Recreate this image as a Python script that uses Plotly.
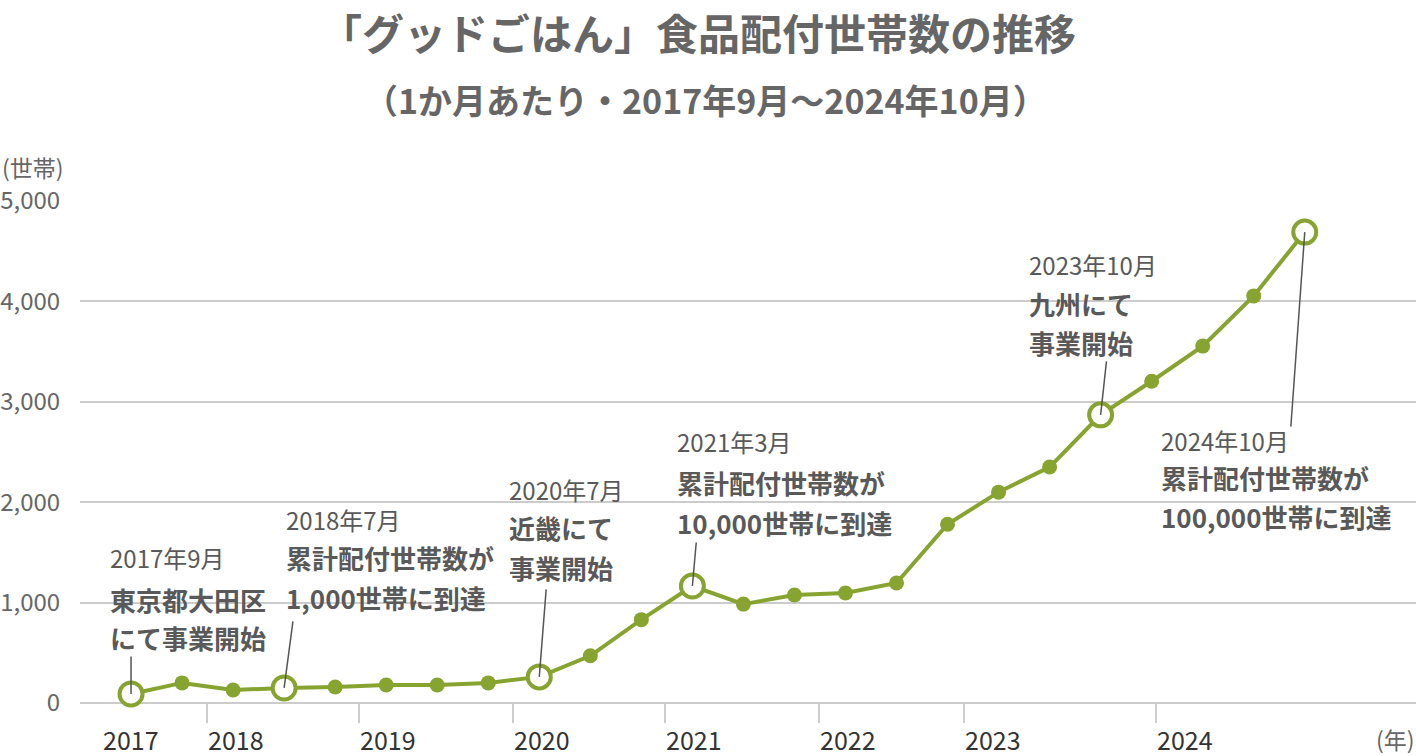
import plotly.graph_objects as go

# ---------------- data ----------------
values = [90, 200, 130, 150, 160, 180, 180, 200, 260, 470, 830, 1165,
          985, 1075, 1095, 1195, 1780, 2100, 2350, 2870, 3205, 3555, 4055, 4690]
idx = list(range(len(values)))

year_labels = ["2017", "2018", "2019", "2020", "2021", "2022", "2023", "2024"]
year_starts = [-0.57, 1.49, 4.47, 7.48, 10.46, 13.48, 16.32, 20.08]

y_ticks = [0, 1000, 2000, 3000, 4000, 5000]

event_idx = [0, 3, 8, 11, 19, 23]
event_dates = ["2017年9月", "2018年7月", "2020年7月", "2021年3月", "2023年10月", "2024年10月"]
event_line2 = ["東京都大田区", "累計配付世帯数が", "近畿にて", "累計配付世帯数が", "九州にて", "累計配付世帯数が"]
event_line3 = ["にて事業開始", "1,000世帯に到達", "事業開始", "10,000世帯に到達", "事業開始", "100,000世帯に到達"]

title = "「グッドごはん」食品配付世帯数の推移"
subtitle = "（1か月あたり・2017年9月～2024年10月）"

# ---------------- style ----------------
FONT = "Noto Sans CJK JP"
GREEN = "#87a330"
GRID = "#cccccc"
TXT = "#595959"

# label layout (pixel offsets from the event point): x shift, y shifts of 3 lines, leader ax/ay
label_xshift = [-23, 0, -32, -17, -74, -146]
label_yshift = [(136, 94, 56), (168, 130, 90), (187, 149, 109), (145, 104, 64),
                (150, 111, 72), (-208, -245, -284)]
leader = [(0, -39), (9, -68), (7, -89), (4, -45), (6, -55), (-14, 196)]

fig = go.Figure()
fig.add_trace(go.Scatter(
    x=idx, y=values, mode="lines+markers",
    line=dict(color=GREEN, width=4),
    marker=dict(color=GREEN, size=15),
    hoverinfo="skip", cliponaxis=False, showlegend=False))
fig.add_trace(go.Scatter(
    x=[idx[i] for i in event_idx], y=[values[i] for i in event_idx], mode="markers",
    marker=dict(color="white", size=23, line=dict(color=GREEN, width=4)),
    hoverinfo="skip", cliponaxis=False, showlegend=False))

ann = []
for k, i in enumerate(event_idx):
    ax, ay = leader[k]
    ann.append(dict(x=idx[i], y=values[i], xref="x", yref="y", text="",
                    showarrow=True, arrowhead=0, arrowwidth=1.5, arrowcolor="#555555",
                    ax=ax, ay=ay, standoff=0))
    texts = [event_dates[k], "<b>%s</b>" % event_line2[k], "<b>%s</b>" % event_line3[k]]
    sizes = [24, 26, 26]
    for t, s, ys in zip(texts, sizes, label_yshift[k]):
        ann.append(dict(x=idx[i], y=values[i], xref="x", yref="y", text=t,
                        showarrow=False, xanchor="left", yanchor="middle",
                        xshift=label_xshift[k], yshift=ys,
                        font=dict(family=FONT, size=s, color=TXT)))

for lab, xs in zip(year_labels, year_starts):
    ann.append(dict(x=xs, y=0, xref="x", yref="paper", text=lab, showarrow=False,
                    xanchor="left", yanchor="middle", yshift=-36, borderpad=0,
                    font=dict(family=FONT, size=25, color="#333333")))

ann.append(dict(x=0, y=1, xref="paper", yref="paper", text="(世帯)", showarrow=False,
                xanchor="left", yanchor="middle", xshift=-80, yshift=34,
                font=dict(family=FONT, size=23, color="#666666")))
ann.append(dict(x=1, y=0, xref="paper", yref="paper", text="(年)", showarrow=False,
                xanchor="right", yanchor="middle", yshift=-36, borderpad=0,
                font=dict(family=FONT, size=23, color="#666666")))
ann.append(dict(x=0.5, y=1, xref="paper", yref="paper", text="<b>%s</b>" % title,
                showarrow=False, xanchor="center", yanchor="middle", xshift=-50, yshift=170,
                font=dict(family=FONT, size=42, color="#666666")))
ann.append(dict(x=0.5, y=1, xref="paper", yref="paper", text="<b>%s</b>" % subtitle,
                showarrow=False, xanchor="center", yanchor="middle", xshift=-43, yshift=102,
                font=dict(family=FONT, size=34, color="#666666")))

fig.update_layout(
    width=1416, height=756,
    margin=dict(l=80, r=0, t=201, b=53),
    paper_bgcolor="white", plot_bgcolor="white",
    annotations=ann,
    xaxis=dict(range=[-1.0, 25.18], showgrid=False, zeroline=False, showline=False,
               tickvals=year_starts[1:], ticks="outside", ticklen=19, tickwidth=2,
               tickcolor=GRID, showticklabels=False, fixedrange=True),
    yaxis=dict(range=[0, 5000], tickvals=y_ticks, tickformat=",",
               showgrid=True, gridcolor=GRID, gridwidth=2,
               zeroline=True, zerolinecolor=GRID, zerolinewidth=2, showline=False,
               ticks="outside", ticklen=14, tickcolor="rgba(0,0,0,0)",
               tickfont=dict(family=FONT, size=24, color="#666666"), fixedrange=True),
)

fig.write_html("out.html", config={"displayModeBar": False},
               post_script="document.body.style.margin='0';document.body.style.overflow='hidden';")
